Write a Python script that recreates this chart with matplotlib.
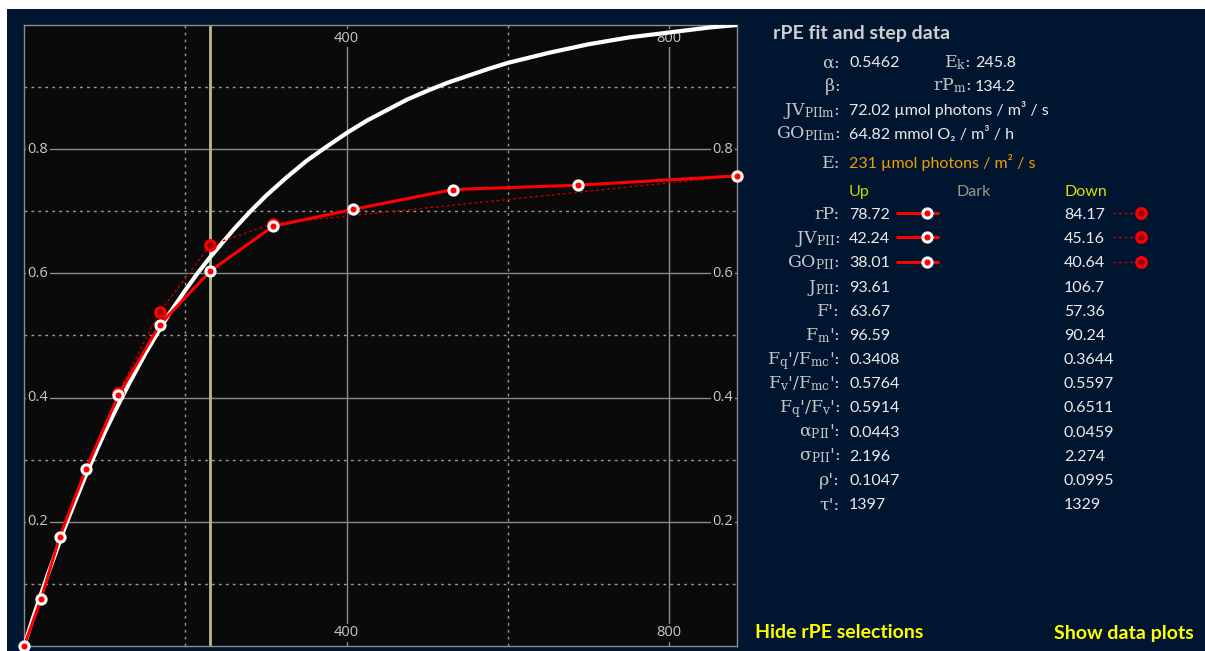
import matplotlib
matplotlib.use("Agg")
import matplotlib.pyplot as plt
import matplotlib.transforms as mtransforms
from matplotlib.patches import Rectangle

plt.rcParams["mathtext.fontset"] = "custom"
plt.rcParams["mathtext.rm"] = "DejaVu Serif"
plt.rcParams["mathtext.it"] = "DejaVu Serif:italic"
plt.rcParams["mathtext.bf"] = "DejaVu Serif:bold"

# ---- data -------------------------------------------------------------
# fitted relative photosynthesis-irradiance curve
fit_E = [0, 10, 20, 30, 40, 50, 60, 75, 90, 100, 115, 130, 150, 165, 180,
         200, 215, 230, 245, 260, 280, 300, 325, 350, 375, 400, 425, 450,
         475, 500, 525, 550, 575, 600, 650, 700, 750, 800, 850, 884]
fit_rP = [0, 0.041, 0.080, 0.117, 0.153, 0.189, 0.222, 0.270, 0.315, 0.344,
          0.384, 0.422, 0.470, 0.503, 0.535, 0.573, 0.600, 0.625, 0.648,
          0.671, 0.699, 0.725, 0.754, 0.781, 0.804, 0.826, 0.846, 0.863,
          0.880, 0.894, 0.907, 0.918, 0.929, 0.939, 0.955, 0.969, 0.980,
          0.988, 0.996, 1.0]

# light steps going up
up_E = [0, 21, 44, 77, 117, 168, 231, 309, 408, 532, 687, 884]
up_rP = [0, 0.0755, 0.1753, 0.2853, 0.404, 0.517, 0.604, 0.676, 0.703,
         0.735, 0.742, 0.757]

# light steps going down
down_E = [884, 309, 231, 168, 117]
down_rP = [0.757, 0.680, 0.6455, 0.5376, 0.408]

E_selected = 231

x_major = [400, 800]
x_minor = [200, 600]
y_major = [0.2, 0.4, 0.6, 0.8]
y_minor = [0.1, 0.3, 0.5, 0.7, 0.9]
x_max = 884

# summary table
fit_labels = [r"$\mathrm{\alpha}$:", r"$\mathrm{\beta}$:"]
fit_values = ["0.5462", ""]
fit2_labels = [r"E$_\mathrm{k}$:", r"rP$_\mathrm{m}$:"]
fit2_values = ["245.8", "134.2"]
max_labels = [r"JV$_\mathrm{PIIm}$:", r"GO$_\mathrm{PIIm}$:"]
max_values = ["72.02 µmol photons / m³ / s", "64.82 mmol O₂ / m³ / h"]
E_text = "231 µmol photons / m² / s"

step_labels = [
    "rP:", r"JV$_\mathrm{PII}$:", r"GO$_\mathrm{PII}$:", r"J$_\mathrm{PII}$:",
    "F':", r"F$_\mathrm{m}$':", r"F$_\mathrm{q}$'/F$_\mathrm{mc}$':",
    r"F$_\mathrm{v}$'/F$_\mathrm{mc}$':", r"F$_\mathrm{q}$'/F$_\mathrm{v}$':",
    r"α$_\mathrm{PII}$':", r"σ$_\mathrm{PII}$':", "ρ':", "τ':",
]
step_up = ["78.72", "42.24", "38.01", "93.61", "63.67", "96.59", "0.3408",
           "0.5764", "0.5914", "0.0443", "2.196", "0.1047", "1397"]
step_down = ["84.17", "45.16", "40.64", "106.7", "57.36", "90.24", "0.3644",
             "0.5597", "0.6511", "0.0459", "2.274", "0.0995", "1329"]

# ---- styling ----------------------------------------------------------
NAVY = "#00152f"
PLOT_BG = "#0a0a0a"
GRID = "#8a8a8a"
GRID_DOT = "#9a9a9a"
TICK_TXT = "#c8c8c8"
LABEL = "#c6c6c6"
VALUE = "#ececec"
RED = "#ff0000"
DARK_RED = "#9a0000"
SEL_LINE = "#bdb78c"
ORANGE = "#f0a000"
UP_COL = "#c4d800"
DOWN_COL = "#dede00"
DARK_COL = "#9a9a84"
BUTTON = "#ffff00"

W, H = 1205, 651
fig = plt.figure(figsize=(W / 100, H / 100), dpi=100)
fig.patch.set_facecolor("white")

# full-figure panel in pixel units for background and side table
panel = fig.add_axes([0, 0, 1, 1], zorder=0)
panel.set_xlim(0, W)
panel.set_ylim(H, 0)
panel.axis("off")
panel.add_patch(Rectangle((7, 9), W - 7, H - 9, facecolor=NAVY,
                          edgecolor="none"))

# ---- chart ------------------------------------------------------------
left_px, right_px, top_px, bot_px = 24.1, 737.0, 25.0, 645.9
ax = fig.add_axes([left_px / W, (H - bot_px) / H,
                   (right_px - left_px) / W, (bot_px - top_px) / H],
                  zorder=1)
ax.set_facecolor(PLOT_BG)
ax.set_xlim(0, x_max)
ax.set_ylim(0, 1.0)
ax.set_xticks([])
ax.set_yticks([])
for s in ax.spines.values():
    s.set_color("#8c8c8c")
    s.set_linewidth(1.0)

for xv in x_major:
    ax.axvline(xv, color=GRID, lw=1.0, zorder=1)
for xv in x_minor:
    ax.axvline(xv, color=GRID_DOT, lw=1.0, ls=(0, (2, 3)), zorder=1)
for yv in y_major:
    ax.axhline(yv, color=GRID, lw=1.0, zorder=1)
for yv in y_minor:
    ax.axhline(yv, color=GRID_DOT, lw=1.0, ls=(0, (2, 3)), zorder=1)

# tick labels drawn inside the frame
box = dict(boxstyle="square,pad=0.12", fc=PLOT_BG, ec="none")
tx = mtransforms.blended_transform_factory(ax.transData, ax.transAxes)
ty = mtransforms.blended_transform_factory(ax.transAxes, ax.transData)
TFS = 10.5
for xv in x_major:
    for yy in (0.979, 0.021):
        ax.text(xv, yy, f"{xv}", transform=tx, ha="center", va="center",
                color=TICK_TXT, fontsize=TFS, family="Open Sans", bbox=box,
                zorder=2)
for yv in y_major:
    ax.text(0.005, yv, f"{yv:.1f}", transform=ty, ha="left", va="center",
            color=TICK_TXT, fontsize=TFS, family="Open Sans", bbox=box,
            zorder=2)
    ax.text(0.995, yv, f"{yv:.1f}", transform=ty, ha="right", va="center",
            color=TICK_TXT, fontsize=TFS, family="Open Sans", bbox=box,
            zorder=2)

ax.axvline(E_selected, color=SEL_LINE, lw=2.0, zorder=2.5)

ax.plot(fit_E, fit_rP, color="white", lw=3.0, solid_capstyle="round",
        solid_joinstyle="round", zorder=3)
ax.plot(down_E, down_rP, color="#c00000", lw=1.0, ls=(0, (2, 2)), zorder=3.5)
ax.plot(down_E, down_rP, ls="none", marker="o", ms=7.0, mfc=DARK_RED,
        mec=RED, mew=2.2, zorder=4, clip_on=False)
ax.plot(up_E, up_rP, color=RED, lw=2.2, zorder=4.5)
ax.plot(up_E, up_rP, ls="none", marker="o", ms=6.6, mfc=RED, mec="white",
        mew=2.2, zorder=5, clip_on=False)

# ---- side table -------------------------------------------------------
VAL_FONT = ["Lato", "DejaVu Sans"]
LAB_FONT = ["DejaVu Serif"]
FS_V = 11.5
FS_L = 12.5
lab_x = 840
val_x = 849
lab2_x = 971
val2_x = 975
down_x = 1064
bl = 5.7  # baseline offset from row centre


def label(x, y, s, **kw):
    panel.text(x, y + bl, s, ha="right", va="baseline", color=LABEL,
               fontsize=FS_L, family=LAB_FONT, **kw)


def value(x, y, s, color=VALUE, **kw):
    panel.text(x, y + bl, s, ha="left", va="baseline", color=color,
               fontsize=FS_V, family=VAL_FONT, **kw)


panel.text(773, 34, "rPE fit and step data", ha="left", va="center",
           color="#cfcfcf", fontsize=14, fontweight="bold", family=VAL_FONT)

for y, l1, v1, l2, v2 in zip([61.5, 85.0], fit_labels, fit_values,
                              fit2_labels, fit2_values):
    label(lab_x, y, l1)
    value(val_x, y, v1)
    label(lab2_x, y, l2)
    value(val2_x, y, v2)

for y, l1, v1 in zip([109.0, 133.0], max_labels, max_values):
    label(lab_x, y, l1)
    value(val_x, y, v1)

label(lab_x, 162.0, "E:")
value(val_x, 162.0, E_text, color=ORANGE)

value(val_x, 190.0, "Up", color=UP_COL)
value(957, 190.0, "Dark", color=DARK_COL)
value(down_x, 190.0, "Down", color=DOWN_COL)

row0, pitch = 213.3, 24.17
for i, (lab, vu, vd) in enumerate(zip(step_labels, step_up, step_down)):
    y = row0 + i * pitch
    label(lab_x, y, lab)
    value(val_x, y, vu)
    value(down_x, y, vd)
    if i < 3:
        panel.plot([896, 939], [y, y], color=RED, lw=2.2,
                   solid_capstyle="butt")
        panel.plot([926.7], [y], marker="o", ms=6.6, mfc=RED, mec="white",
                   mew=2.2)
        panel.plot([1113, 1141], [y, y], color="#c00000", lw=1.0,
                   ls=(0, (2, 2)))
        panel.plot([1141], [y], marker="o", ms=7.0, mfc=DARK_RED, mec=RED,
                   mew=2.2)

panel.text(755, 633, "Hide rPE selections", ha="left", va="center",
           color=BUTTON, fontsize=14, fontweight="bold", family=VAL_FONT)
panel.text(1054, 633, "Show data plots", ha="left", va="center",
           color=BUTTON, fontsize=14, fontweight="bold", family=VAL_FONT)

fig.savefig("out.png", dpi=100, facecolor=fig.get_facecolor())
